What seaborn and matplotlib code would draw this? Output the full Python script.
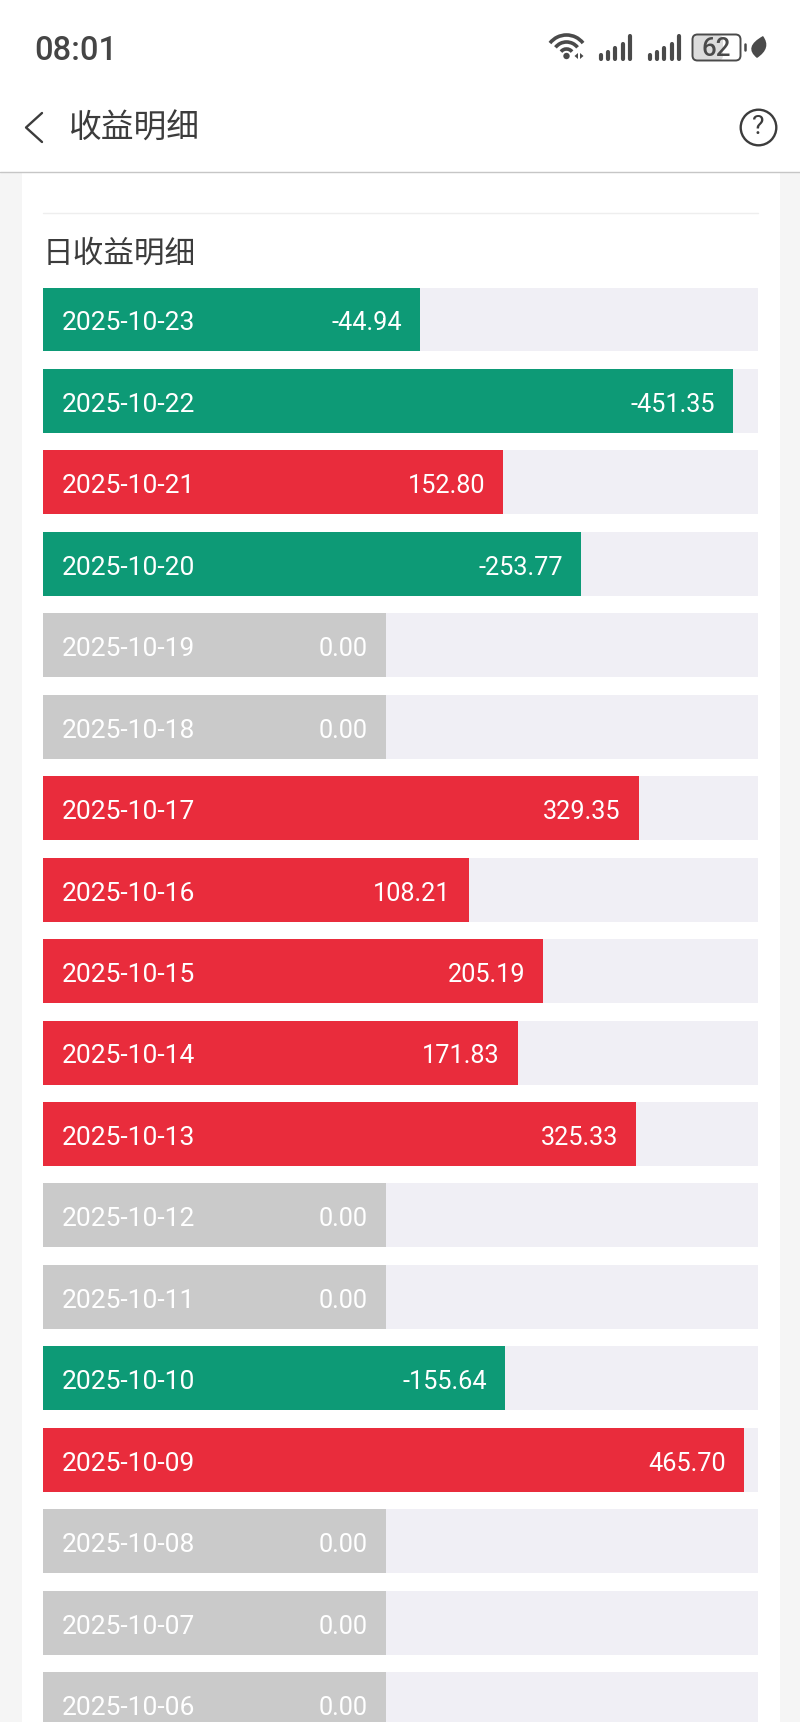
import numpy as np
import pandas as pd
import matplotlib
matplotlib.use("Agg")
import matplotlib.pyplot as plt
from matplotlib.patches import Rectangle, FancyBboxPatch, Circle, Arc, Polygon, PathPatch
from matplotlib.path import Path
import seaborn as sns

# Daily profit records, newest first
dates = ["2025-10-23", "2025-10-22", "2025-10-21", "2025-10-20", "2025-10-19", "2025-10-18",
         "2025-10-17", "2025-10-16", "2025-10-15", "2025-10-14", "2025-10-13", "2025-10-12",
         "2025-10-11", "2025-10-10", "2025-10-09", "2025-10-08", "2025-10-07", "2025-10-06"]
profits = [-44.94, -451.35, 152.80, -253.77, 0.00, 0.00,
           329.35, 108.21, 205.19, 171.83, 325.33, 0.00,
           0.00, -155.64, 465.70, 0.00, 0.00, 0.00]

# A zero day still shows a stub of this length; bar length grows with the absolute amount
STUB = 445.5
AXIS_MAX = 929.8

PALETTE = {"loss": "#0d9a76", "gain": "#e92c3c", "flat": "#cacaca"}
TRACK = "#f0eff5"
INK = "#3c3c3c"
CJK = ["Noto Sans CJK SC", "DejaVu Sans"]

sns.set_theme(style="white")
plt.rcParams["font.family"] = ["Roboto", "DejaVu Sans"]

df = pd.DataFrame({"date": dates, "profit": profits})
df["length"] = STUB + df["profit"].abs()
df["track"] = AXIS_MAX
df["status"] = np.where(df["profit"] > 0, "gain", np.where(df["profit"] < 0, "loss", "flat"))

W, H = 800, 1722
fig = plt.figure(figsize=(W / 100, H / 100), dpi=100, facecolor="white")

# Page furniture, laid out in pixel coordinates
page = fig.add_axes([0, 0, 1, 1])
page.set_xlim(0, W)
page.set_ylim(H, 0)
page.axis("off")

page.add_patch(Rectangle((0, 172), 22, H - 172, fc="#f5f5f5", ec="none"))
page.add_patch(Rectangle((780, 172), 20, H - 172, fc="#f5f5f5", ec="none"))
page.plot([0, W], [171.5, 171.5], color="#c6c6c6", lw=1.0)
page.plot([43, 758], [213, 213], color="#eeeeee", lw=1.0)

page.text(34, 51, "08:01", fontsize=23.5, fontweight="medium", color="#454545", va="center", ha="left")
page.text(68, 129, "收益明细", family=CJK, fontsize=23.6, color=INK, va="center", ha="left")
page.text(43, 254, "日收益明细", family=CJK, fontsize=22.1, color=INK, va="center", ha="left")

# Back chevron and help button
page.plot([42, 26, 42], [113, 127.5, 142], color=INK, lw=1.7, solid_capstyle="round")
page.add_patch(Circle((758.5, 127.5), 17.8, fc="none", ec=INK, lw=1.7))
page.text(758.5, 127.5, "?", fontsize=19, color=INK, ha="center", va="center")

# Status bar: wifi
icon = "#4a4a4a"
for r in (7, 14, 21):
    page.add_patch(Arc((566.5, 56), 2 * r, 2 * r, theta1=218, theta2=322, color=icon, lw=2.6))
page.add_patch(Circle((566.5, 56), 3.2, fc=icon, ec="none"))
page.add_patch(Polygon([[578, 53], [578, 59], [574.5, 56]], fc=icon, ec="none"))
page.add_patch(Polygon([[580, 53], [580, 59], [583.5, 56]], fc=icon, ec="none"))

# Status bar: two signal meters
for start in (601, 650):
    for k, top in enumerate([54.5, 52, 48, 44, 35.5]):
        page.plot([start + k * 7.2] * 2, [top, 58.5], color=icon, lw=3.0, solid_capstyle="round")

# Status bar: battery and leaf
page.add_patch(FancyBboxPatch((693, 35), 30, 25.5, boxstyle="round,pad=0,rounding_size=5",
                              fc="#dcdcdc", ec="none"))
page.add_patch(FancyBboxPatch((692.5, 34.5), 48, 26, boxstyle="round,pad=0,rounding_size=5",
                              fc="none", ec=icon, lw=1.4))
page.text(716, 48.5, "62", fontsize=18.5, fontweight="medium", color=icon, ha="center", va="center")
page.plot([745, 745], [44, 50], color=icon, lw=1.8, solid_capstyle="round")
leaf = Path([(757, 58), (743, 47), (763, 36), (772, 48), (757, 58)],
            [Path.MOVETO, Path.CURVE3, Path.CURVE3, Path.CURVE3, Path.CURVE3])
page.add_patch(PathPatch(leaf, fc=icon, ec="none"))

# Bar rows: row pitch 81.45 px, bar height 64 px, first bar top at y=287.5
PITCH, BAR_H, TOP = 81.45, 64.0, 287.5
LEFT, RIGHT = 43, 758
ax = fig.add_axes([LEFT / W, 0, (RIGHT - LEFT) / W, (H - TOP) / H], zorder=2)
ax.patch.set_visible(False)

sns.barplot(data=df, y="date", x="track", color=TRACK, saturation=1, linewidth=0,
            width=BAR_H / PITCH, orient="h", ax=ax, order=dates)
sns.barplot(data=df, y="date", x="length", hue="status", palette=PALETTE, saturation=1, linewidth=0,
            width=BAR_H / PITCH, dodge=False, orient="h", ax=ax, order=dates, legend=False)

ax.set_xlim(0, AXIS_MAX)
ax.set_ylim((H - TOP) / PITCH - BAR_H / PITCH / 2, -BAR_H / PITCH / 2)
ax.set_xlabel("")
ax.set_ylabel("")
ax.set_xticks([])
ax.set_yticks([])
sns.despine(ax=ax, left=True, bottom=True)

# Offsets are given in points: 1 px = 0.72 pt at this resolution
for i, row in df.iterrows():
    ax.annotate(row["date"], xy=(0, i), xytext=(18.5 * 0.72, -1), textcoords="offset points",
                color="white", fontsize=19, ha="left", va="center_baseline", clip_on=True,
                annotation_clip=False)
    ax.annotate(f"{row['profit']:.2f}", xy=(row["length"], i), xytext=(-18 * 0.72, -1),
                textcoords="offset points", color="white", fontsize=18.2, ha="right",
                va="center_baseline", clip_on=True, annotation_clip=False)

fig.savefig("out.png", dpi=100)
